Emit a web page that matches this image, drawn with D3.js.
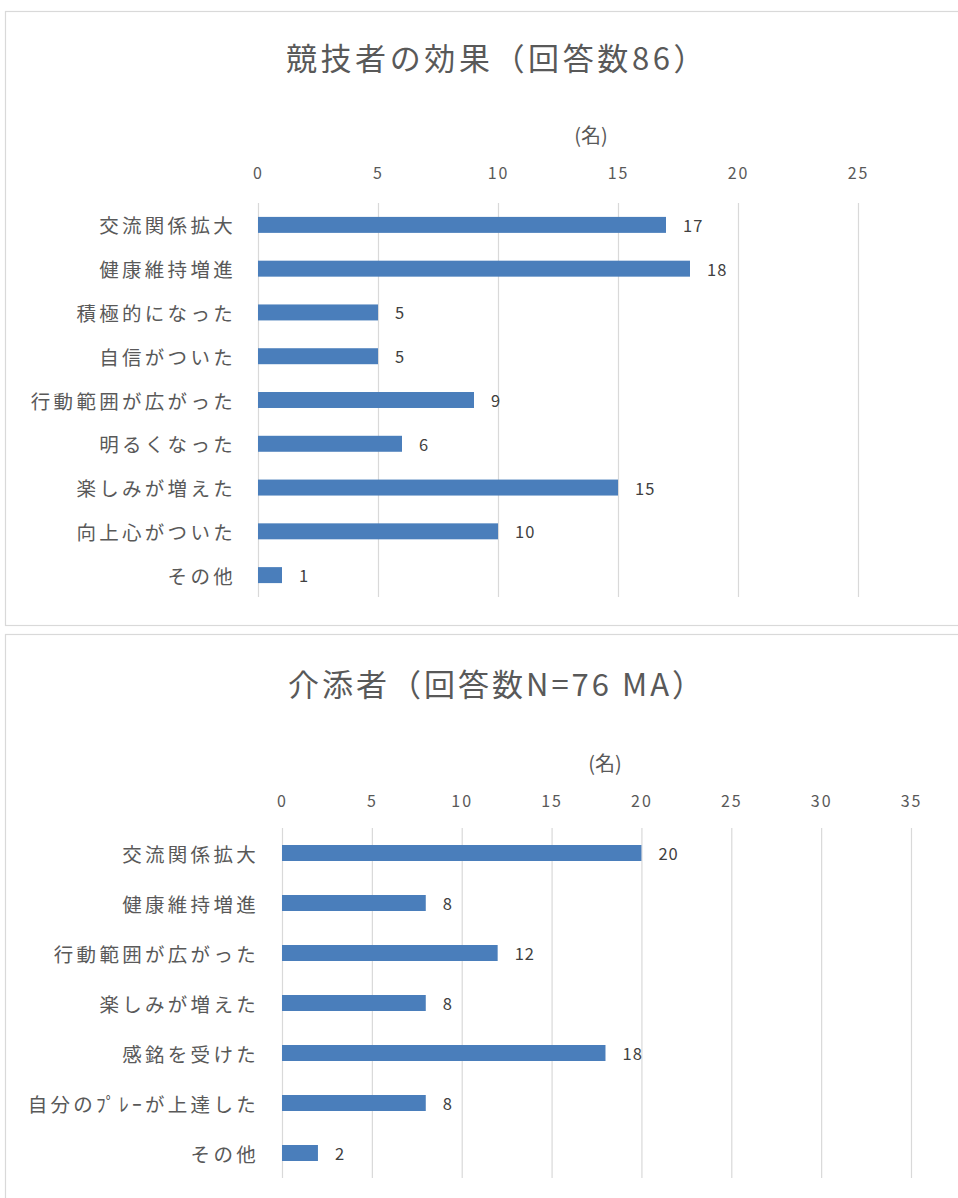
<!DOCTYPE html>
<html>
<head>
<meta charset="utf-8">
<script src="https://cdn.jsdelivr.net/npm/d3@7"></script>
<style>
  html, body { margin: 0; padding: 0; background: #fff; }
  svg { display: block; }
  text { font-family: "Noto Sans CJK JP", "Noto Sans", sans-serif; }
</style>
</head>
<body>
<svg id="chart" width="958" height="1198"></svg>
<script>
// ---- Data ----
const title1 = "競技者の効果（回答数86）";
const categories1 = ["交流関係拡大", "健康維持増進", "積極的になった", "自信がついた", "行動範囲が広がった", "明るくなった", "楽しみが増えた", "向上心がついた", "その他"];
const values1 = [17, 18, 5, 5, 9, 6, 15, 10, 1];
const ticks1 = [0, 5, 10, 15, 20, 25];

const title2 = "介添者（回答数N=76 MA）";
const categories2 = ["交流関係拡大", "健康維持増進", "行動範囲が広がった", "楽しみが増えた", "感銘を受けた", "自分のﾌﾟﾚｰが上達した", "その他"];
const values2 = [20, 8, 12, 8, 18, 8, 2];
const ticks2 = [0, 5, 10, 15, 20, 25, 30, 35];

const unitLabel = "(名)";

// ---- Layout ----
const svg = d3.select("#chart");
const BAR = "#4a7ebb";
const GRID = "#d9d9d9";

function drawPanel(cfg) {
  const g = svg.append("g");
  // panel border
  g.append("rect")
    .attr("x", cfg.box[0] + 0.5).attr("y", cfg.box[1] + 0.5)
    .attr("width", cfg.box[2]).attr("height", cfg.box[3])
    .attr("fill", "#fff").attr("stroke", GRID).attr("stroke-width", 1.2);

  // title
  g.append("text")
    .attr("x", cfg.titlePos[0]).attr("y", cfg.titlePos[1])
    .attr("text-anchor", "middle").attr("dominant-baseline", "central")
    .attr("font-size", 31).attr("fill", "#595959")
    .attr("letter-spacing", cfg.titleLS)
    .text(cfg.title);

  // unit label
  g.append("text")
    .attr("x", cfg.unitPos[0]).attr("y", cfg.unitPos[1])
    .attr("text-anchor", "middle").attr("dominant-baseline", "central")
    .attr("font-size", 20).attr("fill", "#595959")
    .text(unitLabel);

  const x = d3.scaleLinear().domain(cfg.domain).range(cfg.xRange);
  const y = d3.scaleBand().domain(cfg.categories).range(cfg.yRange)
    .paddingInner(cfg.pad).paddingOuter(cfg.pad / 2);

  // gridlines + tick labels via axis
  const axis = d3.axisTop(x).tickValues(cfg.ticks)
    .tickSize(-(cfg.yRange[1] - cfg.yRange[0])).tickPadding(0)
    .tickFormat(d3.format("d"));
  const ax = g.append("g")
    .attr("transform", `translate(0,${cfg.yRange[0]})`)
    .call(axis);
  ax.select(".domain").remove();
  ax.selectAll(".tick line").attr("stroke", GRID).attr("stroke-width", 1.2);
  ax.selectAll(".tick text")
    .attr("y", cfg.tickLabelY - cfg.yRange[0])
    .attr("dy", null)
    .attr("dominant-baseline", "central")
    .attr("font-size", 16).attr("fill", "#595959")
    .attr("letter-spacing", 2)
    .attr("font-family", "\"Noto Sans CJK JP\", sans-serif");

  // category labels
  g.selectAll(".cat").data(cfg.categories).join("text")
    .attr("class", "cat")
    .attr("x", cfg.labelRight)
    .attr("y", d => y(d) + y.bandwidth() / 2)
    .attr("text-anchor", "end").attr("dominant-baseline", "central")
    .attr("font-size", 19.5).attr("fill", "#595959")
    .attr("letter-spacing", 3.3)
    .text(d => d);

  // bars
  g.selectAll(".bar").data(cfg.values).join("rect")
    .attr("class", "bar")
    .attr("x", x(0))
    .attr("y", (d, i) => y(cfg.categories[i]))
    .attr("width", d => x(d) - x(0))
    .attr("height", y.bandwidth())
    .attr("fill", BAR);

  // value labels
  g.selectAll(".val").data(cfg.values).join("text")
    .attr("class", "val")
    .attr("x", d => x(d) + 17)
    .attr("y", (d, i) => y(cfg.categories[i]) + y.bandwidth() / 2)
    .attr("dominant-baseline", "central")
    .attr("font-size", 16.5).attr("fill", "#404040")
    .attr("letter-spacing", 1)
    .text(d => d);
}

drawPanel({
  box: [5, 11, 965, 614],
  title: title1, titlePos: [497, 56], titleLS: 3.6,
  unitPos: [591, 134],
  categories: categories1, values: values1, ticks: ticks1,
  domain: [0, 25], xRange: [258, 858], yRange: [203, 597],
  pad: 0.635, tickLabelY: 172, labelRight: 236
});

drawPanel({
  box: [5, 634, 965, 600],
  title: title2, titlePos: [497, 682], titleLS: 3,
  unitPos: [605, 762],
  categories: categories2, values: values2, ticks: ticks2,
  domain: [0, 35], xRange: [282, 911], yRange: [828, 1178],
  pad: 0.68, tickLabelY: 800, labelRight: 259
});
</script>
</body>
</html>
